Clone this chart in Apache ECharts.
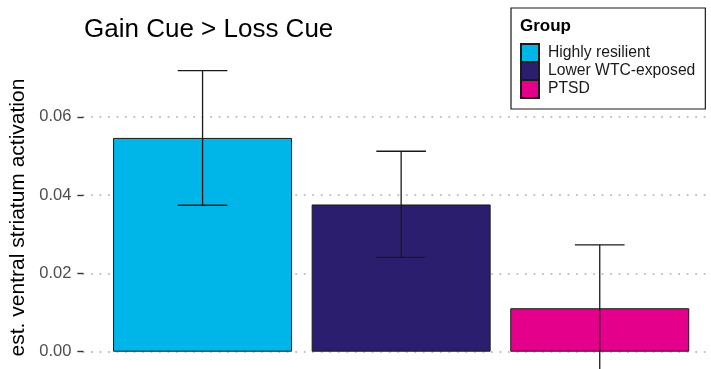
<!DOCTYPE html>
<html>
<head>
<meta charset="utf-8">
<script src="https://cdn.jsdelivr.net/npm/echarts@6/dist/echarts.min.js"></script>
<style>
  html, body { margin: 0; padding: 0; background: #fff; }
  #chart { width: 711px; height: 369px; }
</style>
</head>
<body>
<div id="chart"></div>
<script>
// Groups, their estimated means and standard-error bounds
const groups = ['Highly resilient', 'Lower WTC-exposed', 'PTSD'];
const groupColors = ['#00b5e7', '#2b1e6e', '#e4008b'];
const means = [0.0546, 0.0376, 0.0111];
const lowerBounds = [0.0374, 0.0241, -0.0051];
const upperBounds = [0.0718, 0.0512, 0.0273];
const yTicks = [0, 0.02, 0.04, 0.06];

const FONT = '"Liberation Sans", Arial, Helvetica, sans-serif';

const chart = echarts.init(document.getElementById('chart'), null, { renderer: 'canvas' });

// one bar series per group so the legend lists each group
const barSeries = groups.map((g, i) => ({
  name: g,
  type: 'bar',
  barWidth: 179,
  barGap: '-100%',
  data: [[i + 1, means[i]]],
  itemStyle: { color: groupColors[i], borderColor: '#1a1a1a', borderWidth: 1 },
  z: 2
}));

// error bars: vertical whisker with caps of +/- 0.125 x-units
const errorSeries = {
  type: 'custom',
  name: 'se',
  z: 5,
  clip: false,
  data: groups.map((g, i) => [i + 1, lowerBounds[i], upperBounds[i]]),
  encode: { x: 0, y: [1, 2] },
  renderItem: function (params, api) {
    const x = api.value(0);
    const lo = api.coord([x, api.value(1)]);
    const hi = api.coord([x, api.value(2)]);
    const capL = api.coord([x - 0.125, api.value(1)])[0];
    const capR = api.coord([x + 0.125, api.value(1)])[0];
    const style = { stroke: '#1a1a1a', lineWidth: 1.3 };
    return {
      type: 'group',
      children: [
        { type: 'line', shape: { x1: lo[0], y1: lo[1], x2: hi[0], y2: hi[1] }, style: style },
        { type: 'line', shape: { x1: capL, y1: hi[1], x2: capR, y2: hi[1] }, style: style },
        { type: 'line', shape: { x1: capL, y1: lo[1], x2: capR, y2: lo[1] }, style: style }
      ]
    };
  }
};

chart.setOption({
  animation: false,
  backgroundColor: '#ffffff',
  title: [
    {
      text: 'Gain Cue > Loss Cue',
      left: 84, top: 17, padding: 0,
      textStyle: { fontFamily: FONT, fontSize: 26, fontWeight: 'normal', color: '#000' }
    },
    {
      text: 'Group',
      left: 520, top: 18, padding: 0,
      textStyle: { fontFamily: FONT, fontSize: 17, fontWeight: 'bold', color: '#000' }
    }
  ],
  legend: {
    orient: 'vertical',
    left: 511, top: 8,
    padding: [35, 10, 10, 9],
    itemWidth: 18, itemHeight: 18, itemGap: -2,
    icon: 'rect',
    borderColor: '#1a1a1a', borderWidth: 1.2,
    data: groups,
    textStyle: { fontFamily: FONT, fontSize: 15.7, lineHeight: 18, color: '#1a1a1a', padding: [0, 0, 0, 4] }
  },
  grid: { left: 83.4, right: -7.9, top: 60, bottom: -6, containLabel: false, outerBoundsMode: 'none' },
  xAxis: {
    type: 'value', min: 0.4, max: 3.6,
    show: false,
    splitLine: { show: false }
  },
  yAxis: {
    type: 'value',
    min: -0.00595, max: 0.0745,
    name: 'est. ventral striatum activation',
    nameLocation: 'middle',
    nameGap: 38,
    nameTextStyle: { fontFamily: FONT, fontSize: 21, color: '#000' },
    axisLine: { show: false },
    axisTick: { show: true, length: 6, customValues: yTicks, lineStyle: { color: '#333', width: 1.4 } },
    axisLabel: {
      customValues: yTicks,
      margin: 12,
      fontFamily: FONT, fontSize: 16.5, color: '#4d4d4d',
      formatter: v => v.toFixed(2)
    },
    splitLine: { show: true, lineStyle: { color: '#bdbdbd', width: 2.2, type: [0.01, 8.5], cap: 'round' } }
  },
  series: barSeries.concat([errorSeries])
});
</script>
</body>
</html>
